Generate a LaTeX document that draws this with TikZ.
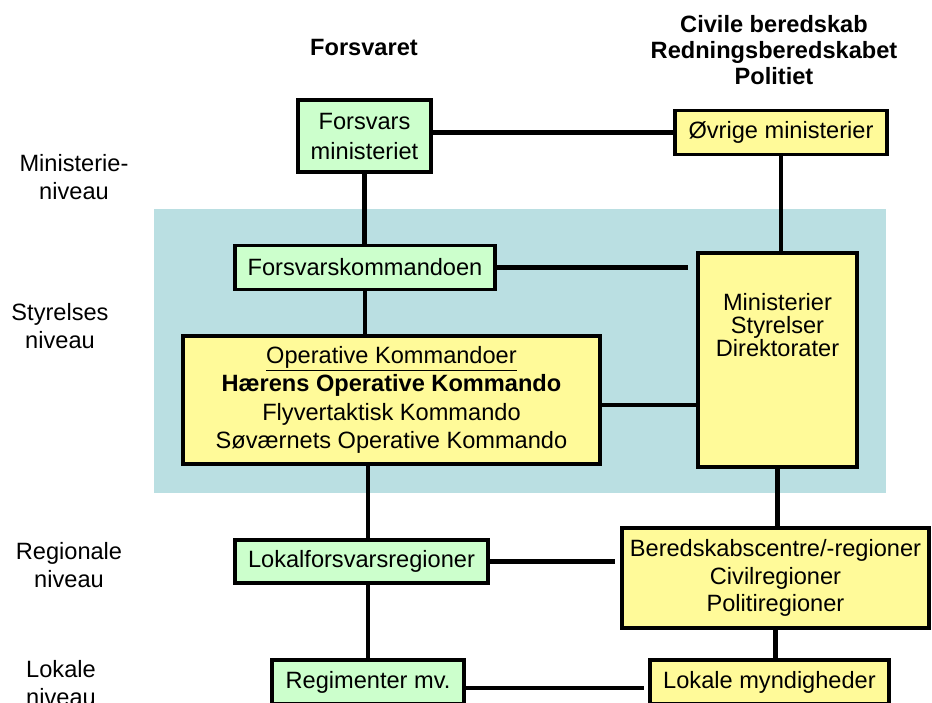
\documentclass[tikz,border=0pt]{standalone}
\usepackage{fontspec}
\setmainfont{Liberation Sans}
\usetikzlibrary{calc}
\definecolor{styrelse}{HTML}{BADFE2}
\tikzset{
  txt/.style={font=\fontsize{17.7}{21}\selectfont,align=center,inner sep=0pt},
  box/.style={txt,draw=black,line width=2.4pt,rectangle},
  forsvar/.style={box,fill=green!20},
  civil/.style={box,fill=yellow!40},
  link/.style={draw=black,line width=3.6pt},
  niveau/.style={txt},
}

\begin{document}
\begin{tikzpicture}[x=0.75pt,y=-0.75pt]
  \useasboundingbox (0,0) rectangle (932,703);
  \clip (0,0) rectangle (932,703);

  % styrelses niveau
  \fill[styrelse] (154,209) rectangle (886,493);

  % headers
  \node[txt,font=\fontsize{17.7}{21}\selectfont\bfseries] (h_forsvar) at (364,47) {Forsvaret};
  \node[txt,font=\fontsize{17.7}{19.5}\selectfont\bfseries] (h_civil) at (774,50) {Civile beredskab\\Redningsberedskabet\\Politiet};

  % levels
  \node[niveau] (n_min) at (74,177) {Ministerie-\\niveau};
  \node[niveau] (n_sty) at (60,326) {Styrelses\\niveau};
  \node[niveau] (n_reg) at (69,565) {Regionale\\niveau};
  \node[niveau] (n_lok) at (61,683) {Lokale\\niveau};

  % Forsvaret
  \node[forsvar,minimum width=99.75pt,minimum height=54pt,font=\fontsize{17.7}{22.5}\selectfont] (fo_min) at (364.5,136) {Forsvars\\ministeriet};
  \node[forsvar,minimum width=195pt,minimum height=32.6pt] (fo_kom) at (365,267.5) {Forsvarskommandoen};
  \node[civil,minimum width=312.75pt,minimum height=96pt,font=\fontsize{17.7}{21.4}\selectfont] (op_kom) at (391.5,400)
    {\underline{Operative Kommandoer}\\\textbf{Hærens Operative Kommando}\\Flyvertaktisk Kommando\\Søværnets Operative Kommando};
  \node[forsvar,minimum width=189.75pt,minimum height=32.25pt] (lf_reg) at (361.5,561.5) {Lokalforsvarsregioner};
  \node[forsvar,minimum width=144pt,minimum height=33pt] (reg_mv) at (368,682) {Regimenter mv.};

  % civile
  \node[civil,minimum width=159pt,minimum height=32.6pt] (ov_min) at (781,132.5) {Øvrige ministerier};
  \node[civil,minimum width=119.25pt,minimum height=160.5pt] (mi_sty) at (777.5,360) {};
  \node[txt,font=\fontsize{17.7}{17.3}\selectfont] (mi_sty_txt) at (777.5,325) {Ministerier\\Styrelser\\Direktorater};
  \node[civil,minimum width=230.25pt,minimum height=75pt,font=\fontsize{17.7}{20.6}\selectfont] (be_reg) at (775.5,578)
    {Beredskabscentre/-regioner\\Civilregioner\\Politiregioner};
  \node[civil,minimum width=179.25pt,minimum height=33pt] (lo_myn) at (769.5,682) {Lokale myndigheder};

  % connectors
  \draw[link] (ov_min.west -| fo_min.east) -- (ov_min.west);
  \draw[link] (ov_min.south) -- (ov_min.south |- mi_sty.north);
  \draw[link] (fo_min.south) -- (fo_min.south |- fo_kom.north);
  \draw[link,shorten >=6pt] (fo_kom.east) -- (fo_kom.east -| mi_sty.west);
  \draw[link] (fo_kom.south) -- (fo_kom.south |- op_kom.north);
  \draw[link] ($(op_kom.east)+(0,5)$) -- ($(op_kom.east -| mi_sty.west)+(0,5)$);
  \draw[link] (reg_mv.north |- op_kom.south) -- (reg_mv.north |- lf_reg.north);
  \draw[link] (reg_mv.north |- lf_reg.south) -- (reg_mv.north);
  \draw[link] (mi_sty.south) -- (mi_sty.south |- be_reg.north);
  \draw[link,shorten >=4pt] (lf_reg.east) -- (lf_reg.east -| be_reg.west);
  \draw[link] (be_reg.south) -- (be_reg.south |- lo_myn.north);
  \draw[link,shorten >=3pt] ($(reg_mv.east)+(-3,6)$) -- ($(lo_myn.west)+(0,6)$);
\end{tikzpicture}
\end{document}
